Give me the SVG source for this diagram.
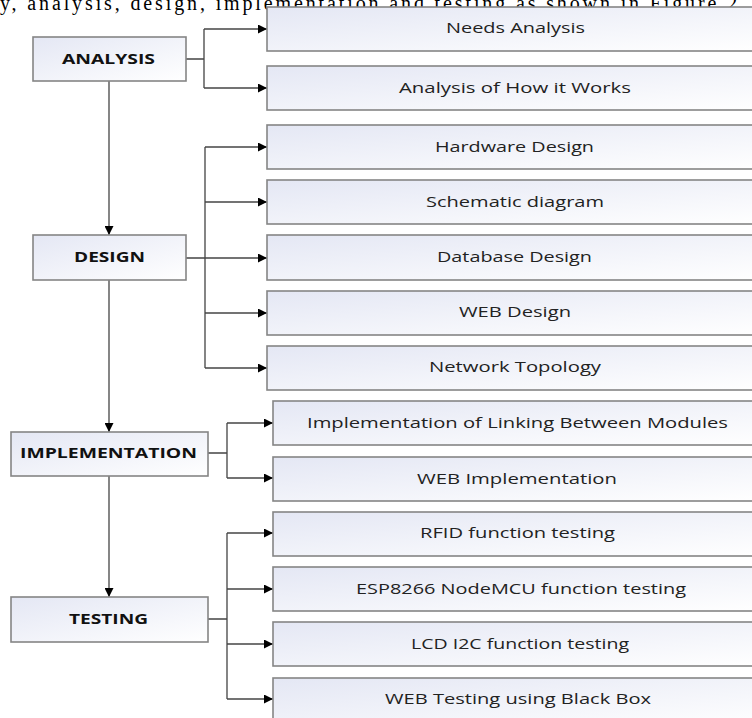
<svg xmlns="http://www.w3.org/2000/svg" width="752" height="718" viewBox="0 0 752 718">
<defs>
<linearGradient id="g" x1="0" y1="0" x2="1" y2="1">
<stop offset="0" stop-color="#e4e7f4"/>
<stop offset="1" stop-color="#ffffff"/>
</linearGradient>
<marker id="a" markerUnits="userSpaceOnUse" markerWidth="10" markerHeight="9" refX="9" refY="4.5" orient="auto">
<path d="M0,0 L9,4.5 L0,9 z" fill="#000"/>
</marker>
<style>
.b{fill:url(#g);stroke:#858585;stroke-width:1.6}
.m{font-family:"Open Sans","DejaVu Sans",sans-serif;font-weight:bold;font-size:14px;fill:#111}
.t{font-family:"Open Sans","DejaVu Sans",sans-serif;font-size:15px;fill:#222}
.c{fill:none;stroke:#444;stroke-width:1.3}
.ar{marker-end:url(#a)}
.top{font-family:"Liberation Serif",serif;font-size:20px;fill:#000}
</style>
</defs>
<rect width="752" height="718" fill="#fff"/>
<text class="top" x="0" y="10" textLength="745" lengthAdjust="spacing">y, analysis, design, implementation and testing as shown in Figure 2.</text>

<g id="connectors">
<path class="c ar" d="M109,81 V235"/>
<path class="c ar" d="M109,280 V432"/>
<path class="c ar" d="M109,476 V597"/>
<path class="c" d="M186,59 H204 M204,29 V88"/>
<path class="c ar" d="M204,29 H267"/>
<path class="c ar" d="M204,88 H267"/>
<path class="c" d="M186,258 H205 M205,147 V368"/>
<path class="c ar" d="M205,147 H267"/>
<path class="c ar" d="M205,202 H267"/>
<path class="c ar" d="M205,258 H267"/>
<path class="c ar" d="M205,313 H267"/>
<path class="c ar" d="M205,368 H267"/>
<path class="c" d="M208,453 H227 M227,423 V478"/>
<path class="c ar" d="M227,423 H273"/>
<path class="c ar" d="M227,478 H273"/>
<path class="c" d="M207,619 H227 M227,533 V699"/>
<path class="c ar" d="M227,533 H273"/>
<path class="c ar" d="M227,589 H273"/>
<path class="c ar" d="M227,644 H273"/>
<path class="c ar" d="M227,699 H273"/>
</g>

<g id="analysis"><rect class="b" x="33" y="37" width="153" height="44"/><text class="m" x="108.5" y="64" text-anchor="middle" textLength="93" lengthAdjust="spacingAndGlyphs">ANALYSIS</text></g>
<g id="design"><rect class="b" x="33" y="235" width="153" height="45"/><text class="m" x="109.5" y="262" text-anchor="middle" textLength="71" lengthAdjust="spacingAndGlyphs">DESIGN</text></g>
<g id="implementation"><rect class="b" x="11" y="432" width="197" height="44"/><text class="m" x="108.5" y="458" text-anchor="middle" textLength="177" lengthAdjust="spacingAndGlyphs">IMPLEMENTATION</text></g>
<g id="testing"><rect class="b" x="11" y="597" width="197" height="45"/><text class="m" x="108.5" y="624" text-anchor="middle" textLength="79" lengthAdjust="spacingAndGlyphs">TESTING</text></g>

<g id="needs"><rect class="b" x="267" y="7" width="495" height="44"/><text class="t" x="515.5" y="33" text-anchor="middle" textLength="139" lengthAdjust="spacingAndGlyphs">Needs Analysis</text></g>
<g id="how"><rect class="b" x="267" y="66" width="495" height="44"/><text class="t" x="515" y="93" text-anchor="middle" textLength="232" lengthAdjust="spacingAndGlyphs">Analysis of How it Works</text></g>
<g id="hardware"><rect class="b" x="267" y="125" width="495" height="44"/><text class="t" x="514.5" y="152" text-anchor="middle" textLength="159" lengthAdjust="spacingAndGlyphs">Hardware Design</text></g>
<g id="schematic"><rect class="b" x="267" y="180" width="495" height="44"/><text class="t" x="515" y="207" text-anchor="middle" textLength="178" lengthAdjust="spacingAndGlyphs">Schematic diagram</text></g>
<g id="database"><rect class="b" x="267" y="235" width="495" height="45"/><text class="t" x="514.5" y="262" text-anchor="middle" textLength="155" lengthAdjust="spacingAndGlyphs">Database Design</text></g>
<g id="webdesign"><rect class="b" x="267" y="291" width="495" height="44"/><text class="t" x="515" y="317" text-anchor="middle" textLength="112" lengthAdjust="spacingAndGlyphs">WEB Design</text></g>
<g id="network"><rect class="b" x="267" y="346" width="495" height="44"/><text class="t" x="515" y="372" text-anchor="middle" textLength="172" lengthAdjust="spacingAndGlyphs">Network Topology</text></g>
<g id="linking"><rect class="b" x="273" y="401" width="489" height="44"/><text class="t" x="517.5" y="428" text-anchor="middle" textLength="421" lengthAdjust="spacingAndGlyphs">Implementation of Linking Between Modules</text></g>
<g id="webimpl"><rect class="b" x="273" y="457" width="489" height="44"/><text class="t" x="517" y="484" text-anchor="middle" textLength="200" lengthAdjust="spacingAndGlyphs">WEB Implementation</text></g>
<g id="rfid"><rect class="b" x="273" y="512" width="489" height="44"/><text class="t" x="517.5" y="538" text-anchor="middle" textLength="195" lengthAdjust="spacingAndGlyphs">RFID function testing</text></g>
<g id="esp"><rect class="b" x="273" y="567" width="489" height="44"/><text class="t" x="521" y="594" text-anchor="middle" textLength="330" lengthAdjust="spacingAndGlyphs">ESP8266 NodeMCU function testing</text></g>
<g id="lcd"><rect class="b" x="273" y="622" width="489" height="44"/><text class="t" x="520" y="649" text-anchor="middle" textLength="218" lengthAdjust="spacingAndGlyphs">LCD I2C function testing</text></g>
<g id="webtest"><rect class="b" x="273" y="678" width="489" height="50"/><text class="t" x="518" y="704" text-anchor="middle" textLength="266" lengthAdjust="spacingAndGlyphs">WEB Testing using Black Box</text></g>
</svg>
